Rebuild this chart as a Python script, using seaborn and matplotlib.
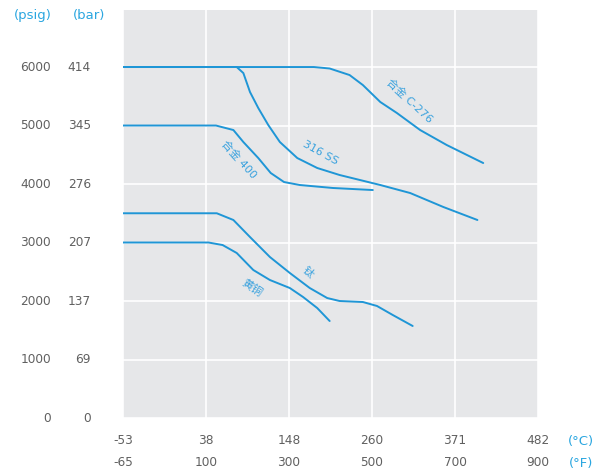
import matplotlib
matplotlib.use("Agg")
import matplotlib.pyplot as plt
import numpy as np
import pandas as pd
import seaborn as sns

# ---- data ----
temp_c_labels = ["-53", "38", "148", "260", "371", "482"]
temp_f_labels = ["-65", "100", "300", "500", "700", "900"]
psig_ticks = [0, 1000, 2000, 3000, 4000, 5000, 6000]
psig_labels = ["0", "1000", "2000", "3000", "4000", "5000", "6000"]
bar_labels = ["0", "69", "137", "207", "276", "345", "414"]

# x is the index along the evenly spaced temperature ticks (0 = -65°F ... 5 = 900°F)
c276_x = [0.0, 2.30, 2.49, 2.73, 2.89, 3.10, 3.30, 3.58, 3.90, 4.34]
c276_y = [6000, 6000, 5975, 5863, 5692, 5402, 5214, 4923, 4667, 4359]

ss316_x = [0.0, 1.37, 1.45, 1.53, 1.63, 1.75, 1.89, 2.10, 2.34, 2.61, 3.10, 3.46, 3.86, 4.27]
ss316_y = [6000, 6000, 5897, 5573, 5299, 5009, 4718, 4444, 4274, 4154, 3983, 3846, 3607, 3385]

a400_x = [0.0, 1.12, 1.33, 1.45, 1.63, 1.78, 1.94, 2.13, 2.53, 3.01]
a400_y = [5000, 5000, 4923, 4718, 4444, 4188, 4034, 3983, 3932, 3897]

ti_x = [0.0, 1.13, 1.33, 1.53, 1.77, 2.01, 2.25, 2.46, 2.61, 2.89, 3.06, 3.25, 3.49]
ti_y = [3500, 3500, 3385, 3094, 2752, 2479, 2222, 2051, 2000, 1983, 1915, 1761, 1573]

brass_x = [0.0, 1.03, 1.20, 1.37, 1.57, 1.77, 2.01, 2.17, 2.34, 2.49]
brass_y = [3000, 3000, 2957, 2821, 2530, 2359, 2222, 2068, 1880, 1658]

series_names = ["合金 C-276", "316 SS", "合金 400", "钛", "黄铜"]
series_x = [c276_x, ss316_x, a400_x, ti_x, brass_x]
series_y = [c276_y, ss316_y, a400_y, ti_y, brass_y]

# label placement (x index, psig, rotation)
label_pos = {
    "合金 C-276": (3.45, 5420, -43),
    "316 SS": (2.38, 4530, -29),
    "合金 400": (1.40, 4420, -48),
    "钛": (2.23, 2496, -42),
    "黄铜": (1.55, 2222, -35),
}

rows = []
for name, xs, ys in zip(series_names, series_x, series_y):
    for i, (x, y) in enumerate(zip(xs, ys)):
        rows.append({"material": name, "t": x, "p": y, "order": i})
df = pd.DataFrame(rows)

LINE = "#1f96d6"
LABEL = "#3aa2de"
TICK = "#606060"
HEAD = "#2aa6e0"

sns.set_style("darkgrid", {"axes.facecolor": "#e6e7e9", "grid.color": "white",
                           "axes.edgecolor": "none"})
plt.rcParams["font.family"] = ["DejaVu Sans", "Noto Sans CJK SC"]

fig = plt.figure(figsize=(5.98, 4.72), dpi=100)
ax = fig.add_axes([123 / 598, 54 / 472, 415 / 598, 408 / 472])

sns.lineplot(data=df, x="t", y="p", hue="material", units="material",
             estimator=None, sort=False,
             palette={n: LINE for n in series_names}, legend=False,
             linewidth=1.4, solid_joinstyle="round", ax=ax)

ax.set_xlim(0, 5)
ax.set_ylim(0, 6975)
ax.set_xticks(range(6))
ax.set_yticks(psig_ticks)
ax.set_xticklabels([])
ax.set_yticklabels([])
ax.tick_params(length=0)
ax.grid(True, color="white", linewidth=1.2)
ax.set_xlabel("")
ax.set_ylabel("")
for s in ax.spines.values():
    s.set_visible(False)

# y labels: psig and bar columns
ytr = ax.get_yaxis_transform()
for v, lp, lb in zip(psig_ticks, psig_labels, bar_labels):
    ax.text((51 - 123) / 415, v, lp, transform=ytr, ha="right", va="center",
            fontsize=8.7, color=TICK, clip_on=False)
    ax.text((91 - 123) / 415, v, lb, transform=ytr, ha="right", va="center",
            fontsize=8.7, color=TICK, clip_on=False)
fig.text(33 / 598, 1 - 16 / 472, "(psig)", ha="center", va="center", fontsize=9.5, color=HEAD)
fig.text(89 / 598, 1 - 16 / 472, "(bar)", ha="center", va="center", fontsize=9.5, color=HEAD)

# x labels: °C and °F rows
xtr = ax.get_xaxis_transform()
for i, (lc, lf) in enumerate(zip(temp_c_labels, temp_f_labels)):
    ax.text(i, -23 / 408, lc, transform=xtr, ha="center", va="center",
            fontsize=8.7, color=TICK, clip_on=False)
    ax.text(i, -45 / 408, lf, transform=xtr, ha="center", va="center",
            fontsize=8.7, color=TICK, clip_on=False)
fig.text(581 / 598, 1 - 441 / 472, "(°C)", ha="center", va="center", fontsize=9.5, color=HEAD)
fig.text(581 / 598, 1 - 463 / 472, "(°F)", ha="center", va="center", fontsize=9.5, color=HEAD)

# curve labels
for name, (x, y, rot) in label_pos.items():
    ax.text(x, y, name, rotation=rot, rotation_mode="anchor", ha="center",
            va="center", fontsize=8, color=LABEL)

fig.savefig("out.png", dpi=100, facecolor="white")
